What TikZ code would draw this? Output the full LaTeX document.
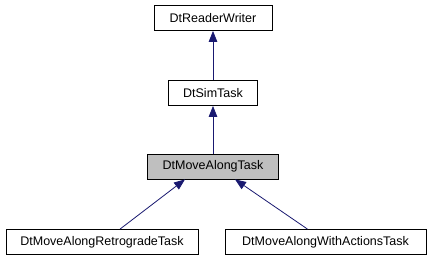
\documentclass[tikz,border=0pt]{standalone}
\usepackage{fontspec}
\setmainfont{Liberation Sans}
\usetikzlibrary{arrows.meta}
\definecolor{edgeblue}{HTML}{191970}
\definecolor{curgray}{HTML}{BFBFBF}
\tikzset{
  classbox/.style={draw=black, fill=white, line width=0.8pt, minimum height=25pt,
    inner sep=0pt, font=\fontsize{12.5}{14}\selectfont},
  curbox/.style={classbox, fill=curgray},
  inherit/.style={edgeblue, line width=0.8pt, -{Triangle[length=11pt,width=8.5pt]}}
}
\begin{document}
\begin{tikzpicture}[x=1pt,y=-1pt]
        \useasboundingbox (0,0) rectangle (431,261);
        % Classi
        \node[classbox, minimum width=118pt] (rw) at (213,18) {DtReaderWriter};
        \node[classbox, minimum width=89pt] (sim) at (213,93) {DtSimTask};
        \node[curbox, minimum width=131pt] (mat) at (213,166.5) {DtMoveAlongTask};
        \node[classbox, minimum width=192pt] (retro) at (102,242) {DtMoveAlongRetrogradeTask};
        \node[classbox, minimum width=201pt] (act) at (325.5,242) {DtMoveAlongWithActionsTask};
        % Ereditarieta
        \draw[inherit] (sim) -- (rw);
        \draw[inherit] (mat) -- (sim);
        \draw[inherit] ([xshift=18pt]retro.north) -- ([xshift=-28pt]mat.south);
        \draw[inherit] ([xshift=-18pt]act.north) -- ([xshift=22pt]mat.south);
    \end{tikzpicture}
\end{document}
